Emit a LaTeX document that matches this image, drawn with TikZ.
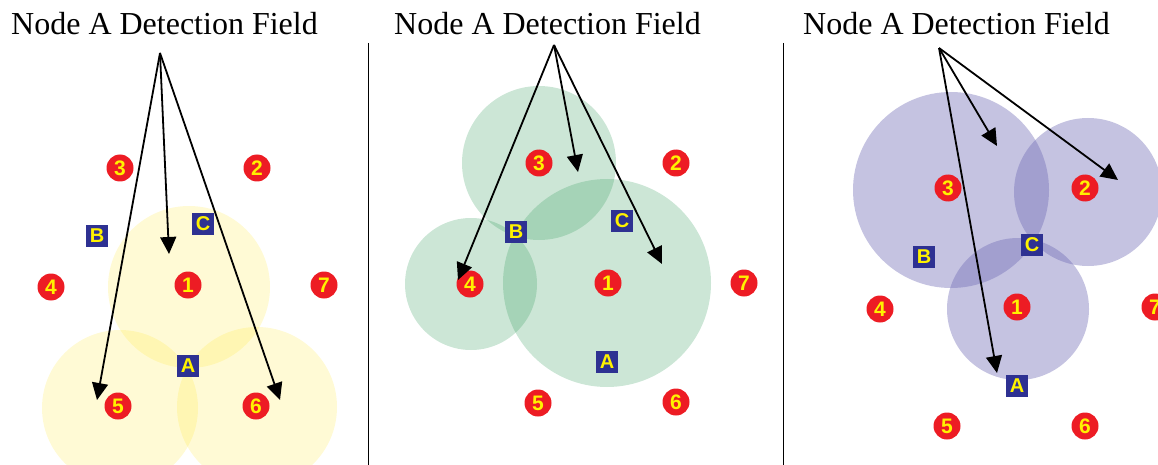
\documentclass[tikz,border=0pt]{standalone}
\usepackage{fontspec}
\setmainfont{Liberation Serif}
\setsansfont{Liberation Sans}
\usepackage{xcolor}
\usetikzlibrary{arrows.meta,positioning}
\definecolor{sensred}{HTML}{ED1C24}
\definecolor{beaconblue}{HTML}{2E3192}
\definecolor{labelyellow}{HTML}{FFF200}
\definecolor{fieldyellow}{RGB}{255,230,45}
\definecolor{fieldgreen}{RGB}{51,155,91}
\definecolor{fieldpurple}{RGB}{110,105,180}

\begin{document}
\begin{tikzpicture}[x=1pt, y=-1pt,
    sensor/.style={circle, fill=sensred, minimum size=27pt, inner sep=0pt, text=labelyellow, font=\sffamily\bfseries\fontsize{21}{21}\selectfont},
    beacon/.style={rectangle, fill=beaconblue, minimum size=22pt, inner sep=0pt, text=labelyellow, font=\sffamily\bfseries\fontsize{20}{20}\selectfont},
    ttl/.style={anchor=base west, inner sep=0pt, font=\fontsize{32}{36}\selectfont},
    yfield/.style={fill=fieldyellow, fill opacity=0.2},
    gfield/.style={fill=fieldgreen, fill opacity=0.25},
    pfield/.style={fill=fieldpurple, fill opacity=0.4},
    arr/.style={-{Triangle[length=17pt,width=16pt]}, line width=1.8pt},
    sepline/.style={line width=0.8pt},
]
\useasboundingbox (0,0) rectangle (1158,465);

% fields
\fill[yfield] (189,287) circle[radius=81pt];
\fill[yfield] (120,408) circle[radius=78pt];
\fill[yfield] (257,407) circle[radius=80pt];
\fill[gfield] (539,163) circle[radius=77pt];
\fill[gfield] (471,284) circle[radius=66pt];
\fill[gfield] (607,283) circle[radius=104pt];
\fill[pfield] (951,190) circle[radius=98pt];
\fill[pfield] (1088,192) circle[radius=74pt];
\fill[pfield] (1018,309) circle[radius=71pt];

\draw[sepline] (368,43) -- (368,465);
\draw[sepline] (783,43) -- (783,465);

\node[ttl] (ltitle) at (11,35) {Node A Detection Field};
\node[ttl] (mtitle) at (394,35) {Node A Detection Field};
\node[ttl] (rtitle) at (803,35) {Node A Detection Field};

\node[sensor] (l3) at (120,168) {3};
\node[sensor] (l2) at (257,168) {2};
\node[beacon] (lB) at (97,236) {B};
\node[beacon] (lC) at (203,224) {C};
\node[sensor] (l4) at (51,287) {4};
\node[sensor] (l1) at (188,285) {1};
\node[sensor] (l7) at (324,285) {7};
\node[beacon] (lA) at (188,366) {A};
\node[sensor] (l5) at (118,406) {5};
\node[sensor] (l6) at (256,406) {6};

\node[sensor] (m3) at (539,163) {3};
\node[sensor] (m2) at (676,163) {2};
\node[beacon] (mB) at (516,232) {B};
\node[beacon] (mC) at (622,221) {C};
\node[sensor] (m4) at (470,284) {4};
\node[sensor] (m1) at (608,283) {1};
\node[sensor] (m7) at (744,283) {7};
\node[beacon] (mA) at (607,362) {A};
\node[sensor] (m5) at (538,403) {5};
\node[sensor] (m6) at (676,402) {6};

\node[sensor] (r3) at (948,188) {3};
\node[sensor] (r2) at (1085,188) {2};
\node[beacon] (rB) at (924,257) {B};
\node[beacon] (rC) at (1032,245) {C};
\node[sensor] (r4) at (880,309) {4};
\node[sensor] (r1) at (1017,307) {1};
\node[sensor] (r7) at (1155,307) {7};
\node[beacon] (rA) at (1017,386) {A};
\node[sensor] (r5) at (947,426) {5};
\node[sensor] (r6) at (1085,426) {6};

% arrows
\coordinate (lsrc) at (160,53);
\coordinate (ltip1) at (169,254);
\coordinate (ltip2) at (97,400);
\coordinate (ltip3) at (280,400);
\coordinate (msrc) at (554,45);
\coordinate (mtip1) at (458,280);
\coordinate (mtip2) at (578,172);
\coordinate (mtip3) at (662,264);
\coordinate (rsrc) at (939,48);
\coordinate (rtip1) at (997,146);
\coordinate (rtip2) at (1118,180);
\coordinate (rtip3) at (997,373);
\draw[arr] (lsrc) -- (ltip1); \draw[arr] (lsrc) -- (ltip2); \draw[arr] (lsrc) -- (ltip3);
\draw[arr] (msrc) -- (mtip1); \draw[arr] (msrc) -- (mtip2); \draw[arr] (msrc) -- (mtip3);
\draw[arr] (rsrc) -- (rtip1); \draw[arr] (rsrc) -- (rtip2); \draw[arr] (rsrc) -- (rtip3);
\end{tikzpicture}
\end{document}
